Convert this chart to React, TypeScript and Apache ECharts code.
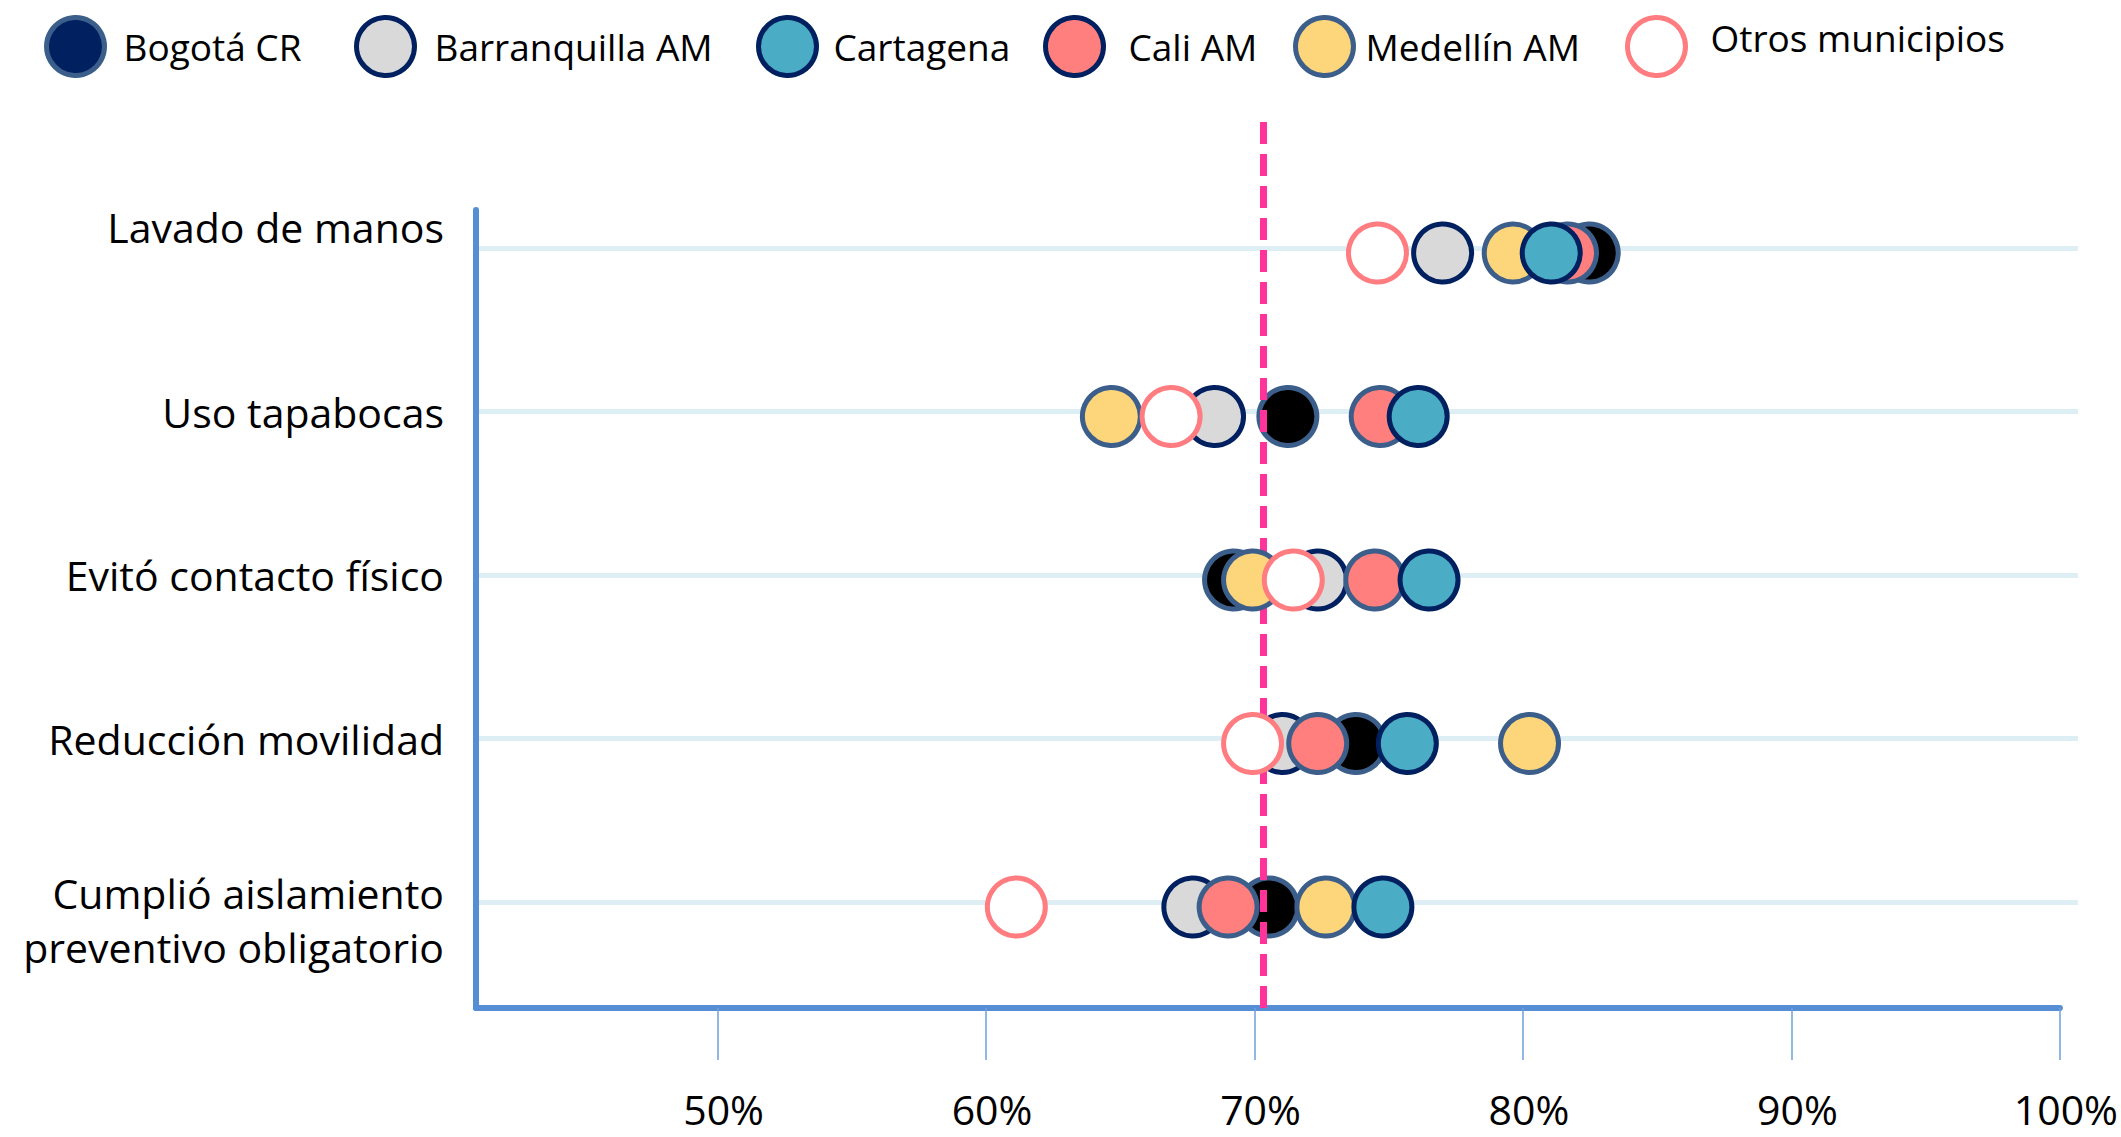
import React, { useEffect, useRef } from "react";
import * as echarts from "echarts";

const categories = [
  "Lavado de manos",
  "Uso tapabocas",
  "Evitó contacto físico",
  "Reducción movilidad",
  "Cumplió aislamiento\npreventivo obligatorio",
];
const bogota = [82.0, 70.9, 68.9, 73.4, 70.2];
const barranquilla = [76.6, 68.2, 72.0, 70.7, 67.4];
const cartagena = [80.6, 75.7, 76.1, 75.3, 74.4];
const cali = [81.2, 74.3, 74.1, 72.0, 68.7];
const medellin = [79.2, 64.4, 69.6, 79.8, 72.3];
const otros = [74.2, 66.6, 71.1, 69.6, 60.9];
const xTickValues = [50, 60, 70, 80, 90, 100];
const referenceValue = 70;
const xMin = 41;
const xMax = 100;

const NAVY = "#002060";
const STEEL = "#3C5E8B";
const FONT = "'Open Sans', 'Noto Sans', sans-serif";

type SeriesDef = {
  name: string;
  values: number[];
  fill: string;
  border: string;
  legendFill: string;
  legendBorder: string;
  legendLeft: number;
  textPad: number;
  raised: boolean;
};

// drawing order: bottom -> top
const seriesDefs: SeriesDef[] = [
  { name: "Bogotá CR", values: bogota, fill: "#000000", border: STEEL, legendFill: NAVY, legendBorder: STEEL, legendLeft: 44, textPad: 14, raised: false },
  { name: "Barranquilla AM", values: barranquilla, fill: "#D9D9D9", border: NAVY, legendFill: "#D9D9D9", legendBorder: NAVY, legendLeft: 354, textPad: 15, raised: false },
  { name: "Cali AM", values: cali, fill: "#FF7F7E", border: STEEL, legendFill: "#FF7F7E", legendBorder: NAVY, legendLeft: 1043, textPad: 20, raised: false },
  { name: "Medellín AM", values: medellin, fill: "#FDD57A", border: STEEL, legendFill: "#FDD57A", legendBorder: STEEL, legendLeft: 1293, textPad: 7, raised: false },
  { name: "Cartagena", values: cartagena, fill: "#4BACC6", border: NAVY, legendFill: "#4BACC6", legendBorder: NAVY, legendLeft: 756, textPad: 12, raised: false },
  { name: "Otros municipios", values: otros, fill: "#FFFFFF", border: "#FF7C80", legendFill: "#FFFFFF", legendBorder: "#FF7C80", legendLeft: 1625, textPad: 20, raised: true },
];

const GRID_LEFT = 476;
const GRID_RIGHT = 43;

export default function App() {
  const ref = useRef<HTMLDivElement>(null);

  useEffect(() => {
    document.body.style.margin = "0";
    if (!ref.current) return;
    const chart = echarts.init(ref.current, undefined, { renderer: "svg" });

    const labelStyle = { fontSize: 41, fontFamily: FONT, color: "#000000" };
    const legendFont = { fontSize: 37, fontFamily: FONT, color: "#000000" };

    const option: any = {
      animation: false,
      backgroundColor: "#FFFFFF",
      legend: seriesDefs.map((s) => ({
        data: [
          {
            name: s.name,
            icon: "circle",
            itemStyle: { color: s.legendFill, borderColor: s.legendBorder, borderWidth: 5 },
          },
        ],
        left: s.legendLeft,
        top: 15,
        padding: 0,
        itemWidth: 58,
        itemHeight: 58,
        selectedMode: false,
        formatter: (n: string) => (s.raised ? `{a|${n}}\n{b| }` : `{a|${n}}`),
        textStyle: {
          ...legendFont,
          rich: {
            a: { ...legendFont, lineHeight: 44, padding: [0, 0, 0, s.textPad] },
            b: { fontSize: 2, lineHeight: 18 },
          },
        },
      })),
      grid: [
        { left: GRID_LEFT, right: GRID_RIGHT, top: 210, bottom: 129 },
        { left: GRID_LEFT, right: GRID_RIGHT, top: 122, bottom: 129 },
        { left: GRID_LEFT, right: GRID_RIGHT, top: 248, bottom: 235 },
      ],
      xAxis: [
        {
          type: "value",
          gridIndex: 0,
          min: xMin,
          max: xMax,
          axisLine: { show: true, onZero: false, lineStyle: { color: "#558ED5", width: 6 } },
          axisTick: {
            show: true,
            customValues: xTickValues,
            length: 52,
            lineStyle: { color: "#6F9FDB", width: 1.5 },
          },
          axisLabel: {
            customValues: xTickValues,
            formatter: (v: number) => `${v}%`,
            margin: 80,
            fontSize: 41,
            fontFamily: FONT,
            color: "#000000",
            padding: [0, 0, 0, 12],
          },
          splitLine: { show: false },
        },
        {
          type: "value",
          gridIndex: 1,
          min: xMin,
          max: xMax,
          show: false,
        },
        {
          type: "value",
          gridIndex: 2,
          min: xMin,
          max: xMax,
          show: false,
        },
      ],
      yAxis: [
        {
          type: "value",
          gridIndex: 0,
          min: 0,
          max: 1,
          axisLine: { show: true, onZero: false, lineStyle: { color: "#558ED5", width: 6 } },
          axisTick: { show: false },
          axisLabel: { show: false },
          splitLine: { show: false },
        },
        {
          type: "value",
          gridIndex: 1,
          min: 0,
          max: 1,
          show: false,
        },
        {
          type: "category",
          gridIndex: 2,
          data: categories,
          inverse: true,
          boundaryGap: false,
          axisLine: { show: false },
          axisTick: { show: false },
          splitLine: { show: true, lineStyle: { color: "#DDEEF5", width: 5 } },
          axisLabel: {
            ...labelStyle,
            margin: 32,
            align: "right",
            formatter: (value: string, index: number) => {
              const lines = value.split("\n");
              if (index === 0) return `{t|${value}}\n{e| }`;
              if (lines.length > 1) return `{s| }\n{t|${lines[0]}}\n{t|${lines[1]}}`;
              return `{t|${value}}`;
            },
            rich: {
              t: { ...labelStyle, lineHeight: 54 },
              e: { fontSize: 2, lineHeight: 42 },
              s: { fontSize: 2, lineHeight: 36 },
            },
          },
        },
      ],
      series: [
        ...seriesDefs.map((s, i) => ({
          name: s.name,
          type: "scatter",
          xAxisIndex: 2,
          yAxisIndex: 2,
          z: 2 + i,
          symbol: "circle",
          symbolSize: 58,
          symbolOffset: [0, 5],
          itemStyle: { color: s.fill, borderColor: s.border, borderWidth: 5, opacity: 1 },
          emphasis: { disabled: true },
          data: s.values.map((v, j) => [v, categories[j]]),
        })),
        {
          name: "ref",
          type: "line",
          xAxisIndex: 1,
          yAxisIndex: 1,
          z: 20,
          data: [],
          silent: true,
          markLine: {
            silent: true,
            symbol: "none",
            label: { show: false },
            lineStyle: { color: "#FF3399", width: 7, type: [22, 10] },
            data: [{ xAxis: referenceValue }],
          },
        },
      ],
    };

    chart.setOption(option);
    return () => chart.dispose();
  }, []);

  return <div ref={ref} style={{ width: 2121, height: 1137 }} />;
}
